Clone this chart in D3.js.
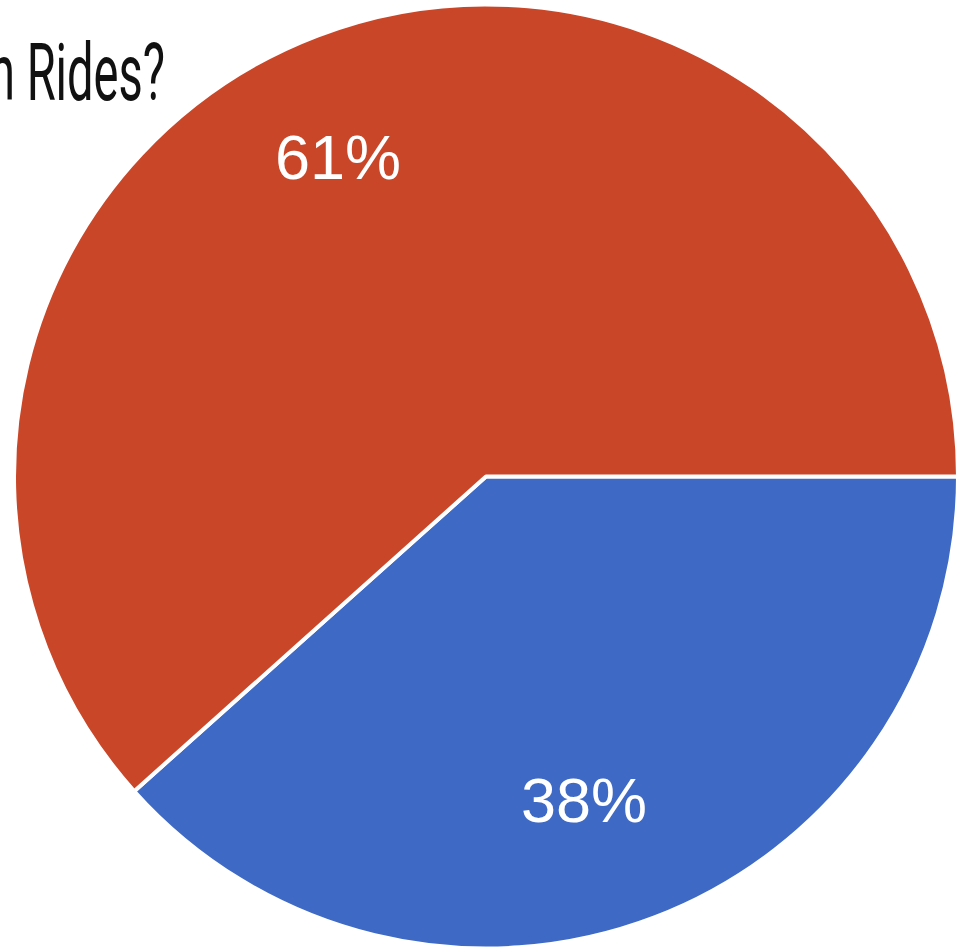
<!DOCTYPE html>
<html>
<head>
<meta charset="utf-8">
<script src="https://cdn.jsdelivr.net/npm/d3@7"></script>
<style>
  html, body { margin: 0; padding: 0; background: #ffffff; overflow: hidden; }
  svg { display: block; }
</style>
</head>
<body>
<script>
// Survey answers and their shares (percent)
const categories = ["Blue answer", "Red answer"];
const shares = [38, 61];
const colors = ["#3e69c5", "#ca4628"];
const titleText = "n Rides?";

const width = 961, height = 948;
const cx = 486, cy = 476.5, radius = 472;

const svg = d3.select("body").append("svg")
  .attr("width", width)
  .attr("height", height);

const data = categories.map((c, i) => ({ name: c, value: shares[i], color: colors[i] }));

// Slices run clockwise starting from the 3 o'clock position
const pie = d3.pie()
  .sort(null)
  .value(d => d.value)
  .startAngle(Math.PI / 2)
  .endAngle(Math.PI / 2 + 2 * Math.PI);

const arc = d3.arc().innerRadius(0).outerRadius(radius);
const labelArc = d3.arc().innerRadius(radius * 0.73).outerRadius(radius * 0.73);

const g = svg.append("g").attr("transform", `translate(${cx},${cy})`);

const arcs = pie(data);

g.selectAll("path.slice")
  .data(arcs)
  .join("path")
  .attr("class", "slice")
  .attr("d", arc)
  .attr("fill", d => d.data.color)
  .attr("stroke", "#ffffff")
  .attr("stroke-width", 4)
  .attr("stroke-linejoin", "round");

g.selectAll("text.pct")
  .data(arcs)
  .join("text")
  .attr("class", "pct")
  .attr("x", d => labelArc.centroid(d)[0] - 25)
  .attr("y", d => labelArc.centroid(d)[1] + 24)
  .attr("text-anchor", "middle")
  .attr("fill", "#ffffff")
  .attr("font-family", "Arial, 'Liberation Sans', sans-serif")
  .attr("font-size", 63)
  .text(d => d3.format(".0f")(d.data.value) + "%");

// Title, partly running off the left edge
svg.append("text")
  .attr("x", 165)
  .attr("y", 100)
  .attr("text-anchor", "end")
  .attr("fill", "#111111")
  .attr("font-family", "Roboto, 'Liberation Sans Narrow', sans-serif")
  .attr("font-weight", 400)
  .attr("font-size", 79)
  .attr("textLength", 176)
  .attr("lengthAdjust", "spacingAndGlyphs")
  .text(titleText);
</script>
</body>
</html>
